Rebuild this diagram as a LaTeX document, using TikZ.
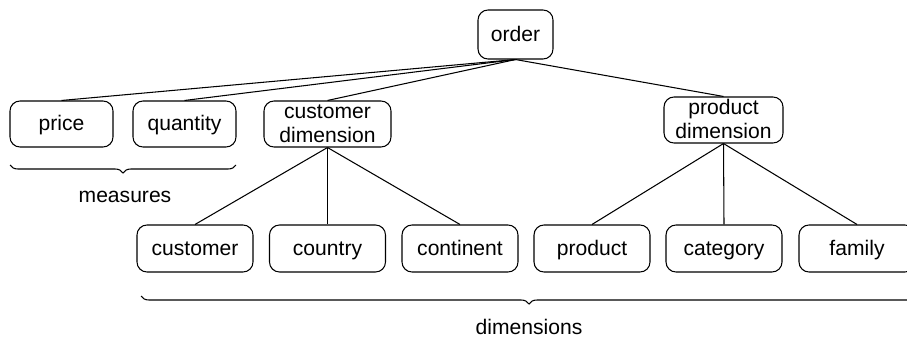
\documentclass[tikz,border=0pt]{standalone}
\usepackage{fontspec}
\setmainfont{Liberation Sans}
\usetikzlibrary{decorations.pathreplacing}
\tikzset{
  box/.style={draw, rounded corners=0.2cm, inner sep=0pt, align=center,
    minimum height=0.92cm, text height=9.5pt, text depth=2.1pt,
    font=\fontsize{12}{14}\selectfont},
  dimbox/.style={box, text height=23.5pt},
  leaf/.style={box, minimum width=2.32cm, minimum height=0.94cm},
  brc/.style={decorate, decoration={brace, mirror, amplitude=0.16cm}},
}
\begin{document}
\begin{tikzpicture}[line width=0.6pt]
    \useasboundingbox (0, 0) rectangle (18.14, 6.78);
    \node[box, minimum width=1.5cm, minimum height=0.98cm] (order) at (10.31, 6.09) {order};
    \node[box, minimum width=2.06cm] (price) at (1.23, 4.3) {price};
    \node[box, minimum width=2.06cm] (quantity) at (3.69, 4.3) {quantity};
    \node[dimbox, minimum width=2.54cm] (custdim) at (6.55, 4.3) {customer\\dimension};
    \node[dimbox, minimum width=2.38cm] (proddim) at (14.47, 4.38) {product\\dimension};
    \node[leaf] (customer) at (3.9, 1.81) {customer};
    \node[leaf] (country) at (6.55, 1.81) {country};
    \node[leaf] (continent) at (9.2, 1.81) {continent};
    \node[leaf] (product) at (11.84, 1.81) {product};
    \node[leaf] (category) at (14.48, 1.81) {category};
    \node[leaf] (family) at (17.14, 1.81) {family};
    \foreach \n in {price, quantity, custdim, proddim}
      \draw (order.south) -- (\n.north);
    \foreach \n in {customer, country, continent}
      \draw (custdim.south) -- (\n.north);
    \foreach \n in {product, category, family}
      \draw (proddim.south) -- (\n.north);
    \draw[brc] (0.2, 3.48) -- (4.72, 3.48);
    \node[font=\fontsize{12}{14}\selectfont] (measlabel) at (2.5, 2.84) {measures};
    \draw[brc] (2.82, 0.86) -- (18.34, 0.86);
    \node[font=\fontsize{12}{14}\selectfont] (dimlabel) at (10.58, 0.24) {dimensions};
  \end{tikzpicture}
\end{document}
